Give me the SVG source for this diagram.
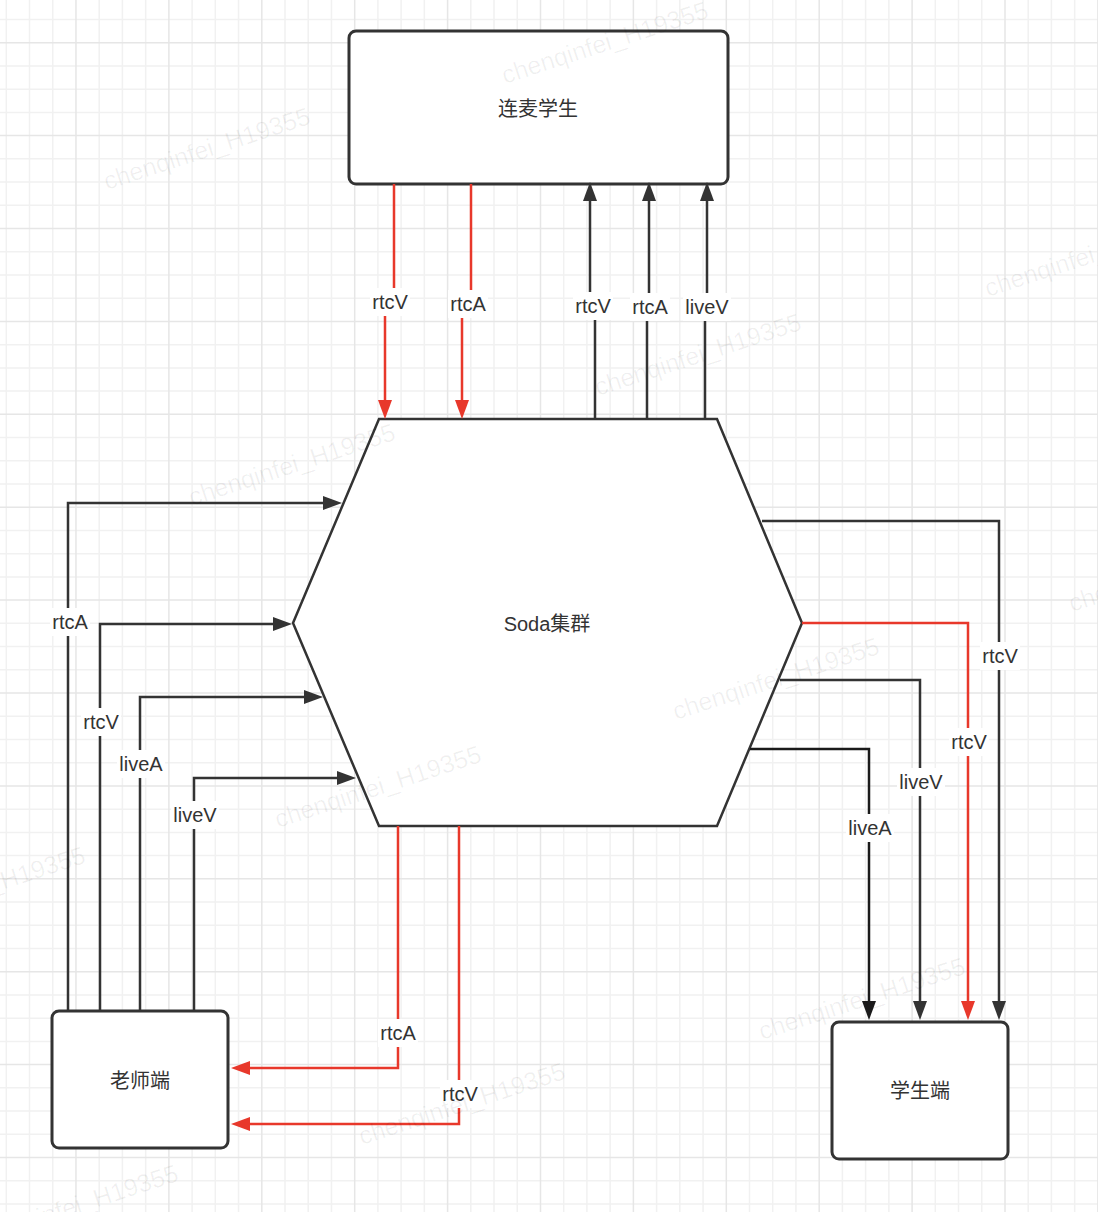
<svg xmlns="http://www.w3.org/2000/svg" width="1098" height="1212" viewBox="0 0 1098 1212">
  <style>
    .grid-minor { fill: none; stroke: #f1f1f1; stroke-width: 1.5; }
    .grid-major { fill: none; stroke: #e6e6e6; stroke-width: 1.5; }
    .box { fill: #ffffff; stroke: #333333; stroke-width: 3; }
    .hex { fill: #ffffff; stroke: #333333; stroke-width: 2.5; stroke-linejoin: miter; }
    .node-text { font-family: "Liberation Sans", "Noto Sans CJK SC", sans-serif; font-size: 20px; fill: #333333; text-anchor: middle; dominant-baseline: central; }
    .edge { fill: none; stroke: #333333; stroke-width: 2.5; }
    .edge.red { stroke: #e8382b; }
    .edge.black { stroke: #1a1a1a; }
    .lbg { fill: #ffffff; }
    .label { font-family: "Liberation Sans", sans-serif; font-size: 20px; fill: #333333; text-anchor: middle; dominant-baseline: central; }
    .wm { font-family: "Liberation Sans", sans-serif; font-size: 25px; fill: #000000; fill-opacity: 0.06; }
  </style>
  <defs>
    <marker id="ah-dark" markerUnits="userSpaceOnUse" viewBox="0 0 19 14" markerWidth="19" markerHeight="14" refX="1" refY="7" orient="auto">
      <path d="M0,0 L19,7 L0,14 z" fill="#333333"/>
    </marker>
    <marker id="ah-black" markerUnits="userSpaceOnUse" viewBox="0 0 19 14" markerWidth="19" markerHeight="14" refX="1" refY="7" orient="auto">
      <path d="M0,0 L19,7 L0,14 z" fill="#1a1a1a"/>
    </marker>
    <marker id="ah-red" markerUnits="userSpaceOnUse" viewBox="0 0 19 14" markerWidth="19" markerHeight="14" refX="1" refY="7" orient="auto">
      <path d="M0,0 L19,7 L0,14 z" fill="#e8382b"/>
    </marker>
  </defs>

  <!-- background and grid -->
  <rect x="0" y="0" width="1098" height="1212" fill="#ffffff"/>
  <g id="grid">
    <path class="grid-minor" d="M6.3,0V1212 M29.5,0V1212 M52.75,0V1212 M99.2,0V1212 M122.4,0V1212 M145.65,0V1212 M192.1,0V1212 M215.3,0V1212 M238.55,0V1212 M285,0V1212 M308.2,0V1212 M331.45,0V1212 M377.9,0V1212 M401.1,0V1212 M424.35,0V1212 M470.8,0V1212 M494,0V1212 M517.25,0V1212 M563.7,0V1212 M586.9,0V1212 M610.15,0V1212 M656.6,0V1212 M679.8,0V1212 M703.05,0V1212 M749.5,0V1212 M772.7,0V1212 M795.95,0V1212 M842.4,0V1212 M865.6,0V1212 M888.85,0V1212 M935.3,0V1212 M958.5,0V1212 M981.75,0V1212 M1028.2,0V1212 M1051.4,0V1212 M1074.65,0V1212
      M0,19.5H1098 M0,65.95H1098 M0,89.2H1098 M0,112.4H1098 M0,158.85H1098 M0,182.1H1098 M0,205.3H1098 M0,251.75H1098 M0,275H1098 M0,298.2H1098 M0,344.65H1098 M0,367.9H1098 M0,391.1H1098 M0,437.55H1098 M0,460.8H1098 M0,484H1098 M0,530.45H1098 M0,553.7H1098 M0,576.9H1098 M0,623.35H1098 M0,646.6H1098 M0,669.8H1098 M0,716.25H1098 M0,739.5H1098 M0,762.7H1098 M0,809.15H1098 M0,832.4H1098 M0,855.6H1098 M0,902.05H1098 M0,925.3H1098 M0,948.5H1098 M0,994.95H1098 M0,1018.2H1098 M0,1041.4H1098 M0,1087.85H1098 M0,1111.1H1098 M0,1134.3H1098 M0,1180.75H1098 M0,1204H1098"/>
    <path class="grid-major" d="M75.98,0V1212 M168.9,0V1212 M261.8,0V1212 M354.7,0V1212 M447.6,0V1212 M540.5,0V1212 M633.4,0V1212 M726.3,0V1212 M819.2,0V1212 M912.1,0V1212 M1005,0V1212 M1097.9,0V1212
      M0,42.7H1098 M0,135.6H1098 M0,228.5H1098 M0,321.4H1098 M0,414.3H1098 M0,507.2H1098 M0,600.1H1098 M0,693H1098 M0,785.9H1098 M0,878.8H1098 M0,971.7H1098 M0,1064.6H1098 M0,1157.5H1098"/>
  </g>

  <!-- nodes -->
  <g id="node-lianmai">
    <rect class="box" x="349" y="31" width="379" height="153" rx="7"/>
    <text class="node-text" x="538" y="109">连麦学生</text>
  </g>
  <g id="node-soda">
    <polygon class="hex" points="379,419 717,419 802,623 717,826 379,826 293,623"/>
    <text class="node-text" x="547" y="624">Soda集群</text>
  </g>
  <g id="node-teacher">
    <rect class="box" x="52" y="1011" width="176" height="137" rx="7"/>
    <text class="node-text" x="140" y="1081">老师端</text>
  </g>
  <g id="node-student">
    <rect class="box" x="832" y="1022" width="176" height="137" rx="7"/>
    <text class="node-text" x="920" y="1091">学生端</text>
  </g>

  <!-- connectors -->
  <g id="connectors">
    <!-- 连麦学生 -> Soda -->
    <path class="edge red" d="M394,184 V302 H385 V401" marker-end="url(#ah-red)"/>
    <path class="edge red" d="M471,184 V304 H462 V401" marker-end="url(#ah-red)"/>
    <!-- Soda -> 连麦学生 -->
    <path class="edge" d="M595,419 V306 H590 V200" marker-end="url(#ah-dark)"/>
    <path class="edge" d="M647,419 V307 H649 V200" marker-end="url(#ah-dark)"/>
    <path class="edge" d="M705,419 V307 H707 V200" marker-end="url(#ah-dark)"/>
    <!-- 老师端 -> Soda -->
    <path class="edge" d="M68,1011 V503 H324" marker-end="url(#ah-dark)"/>
    <path class="edge" d="M100,1011 V624 H274" marker-end="url(#ah-dark)"/>
    <path class="edge" d="M140,1011 V697 H305" marker-end="url(#ah-dark)"/>
    <path class="edge" d="M194,1011 V778 H338" marker-end="url(#ah-dark)"/>
    <!-- Soda -> 老师端 -->
    <path class="edge red" d="M398,826 V1068 H249" marker-end="url(#ah-red)"/>
    <path class="edge red" d="M459,826 V1124 H249" marker-end="url(#ah-red)"/>
    <!-- Soda -> 学生端 -->
    <path class="edge" d="M762,521 H999 V1002" marker-end="url(#ah-dark)"/>
    <path class="edge red" d="M802,623 H968 V1002" marker-end="url(#ah-red)"/>
    <path class="edge" d="M780,680 H920 V1002" marker-end="url(#ah-dark)"/>
    <path class="edge black" d="M750,749 H869 V1002" marker-end="url(#ah-black)"/>

    <!-- edge labels -->
    <g id="edge-labels">
      <rect class="lbg" x="370" y="288" width="40" height="28"/>
      <text class="label" x="390" y="302">rtcV</text>
      <rect class="lbg" x="448" y="290" width="40" height="28"/>
      <text class="label" x="468" y="304">rtcA</text>
      <rect class="lbg" x="573" y="292" width="40" height="28"/>
      <text class="label" x="593" y="306">rtcV</text>
      <rect class="lbg" x="630" y="293" width="40" height="28"/>
      <text class="label" x="650" y="307">rtcA</text>
      <rect class="lbg" x="683" y="293" width="48" height="28"/>
      <text class="label" x="707" y="307">liveV</text>

      <rect class="lbg" x="50" y="608" width="40" height="28"/>
      <text class="label" x="70" y="622">rtcA</text>
      <rect class="lbg" x="81" y="708" width="40" height="28"/>
      <text class="label" x="101" y="722">rtcV</text>
      <rect class="lbg" x="117" y="750" width="48" height="28"/>
      <text class="label" x="141" y="764">liveA</text>
      <rect class="lbg" x="171" y="801" width="48" height="28"/>
      <text class="label" x="195" y="815">liveV</text>

      <rect class="lbg" x="980" y="642" width="40" height="28"/>
      <text class="label" x="1000" y="656">rtcV</text>
      <rect class="lbg" x="949" y="728" width="40" height="28"/>
      <text class="label" x="969" y="742">rtcV</text>
      <rect class="lbg" x="897" y="768" width="48" height="28"/>
      <text class="label" x="921" y="782">liveV</text>
      <rect class="lbg" x="846" y="814" width="48" height="28"/>
      <text class="label" x="870" y="828">liveA</text>

      <rect class="lbg" x="378" y="1019" width="40" height="28"/>
      <text class="label" x="398" y="1033">rtcA</text>
      <rect class="lbg" x="440" y="1080" width="40" height="28"/>
      <text class="label" x="460" y="1094">rtcV</text>
    </g>
  </g>

  <!-- author watermark overlay -->
  <g id="watermark" class="wm">
    <text x="107" y="190" transform="rotate(-18 107 190)">chenqinfei_H19355</text>
    <text x="505" y="84" transform="rotate(-18 505 84)">chenqinfei_H19355</text>
    <text x="598" y="396" transform="rotate(-18 598 396)">chenqinfei_H19355</text>
    <text x="192" y="506" transform="rotate(-18 192 506)">chenqinfei_H19355</text>
    <text x="676" y="720" transform="rotate(-18 676 720)">chenqinfei_H19355</text>
    <text x="278" y="828" transform="rotate(-18 278 828)">chenqinfei_H19355</text>
    <text x="-118" y="929" transform="rotate(-18 -118 929)">chenqinfei_H19355</text>
    <text x="762" y="1040" transform="rotate(-18 762 1040)">chenqinfei_H19355</text>
    <text x="988" y="297" transform="rotate(-18 988 297)">chenqinfei_H19355</text>
    <text x="1072" y="612" transform="rotate(-18 1072 612)">chenqinfei_H19355</text>
    <text x="362" y="1145" transform="rotate(-18 362 1145)">chenqinfei_H19355</text>
    <text x="-25" y="1247" transform="rotate(-18 -25 1247)">chenqinfei_H19355</text>
  </g>
</svg>
